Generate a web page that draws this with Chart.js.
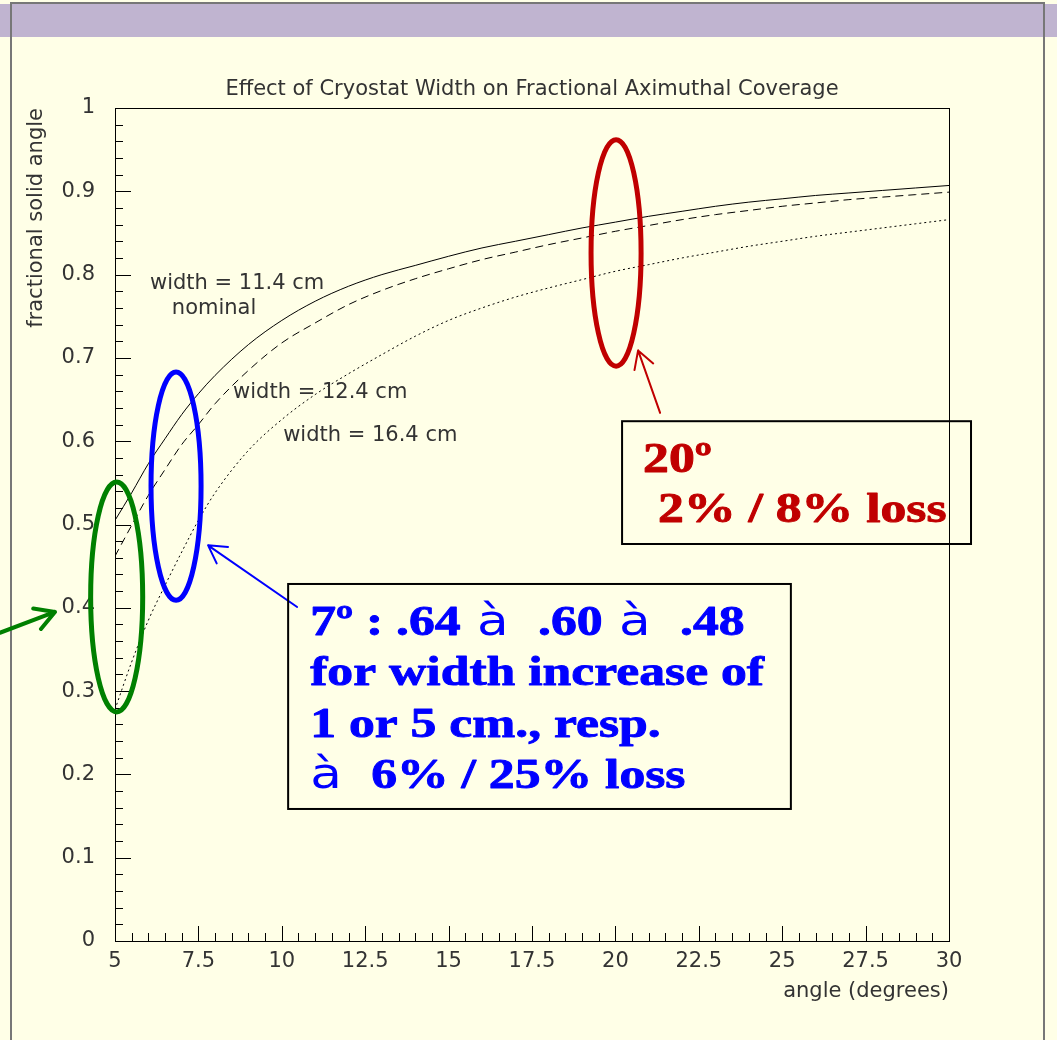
<!DOCTYPE html>
<html>
<head>
<meta charset="utf-8">
<script src="https://cdn.jsdelivr.net/npm/chart.js@4.4.1/dist/chart.umd.min.js"></script>
<style>
  html, body { margin: 0; padding: 0; background: #ffffe7; }
  canvas { display: block; }
</style>
</head>
<body>
<canvas id="chart" width="1057" height="1040"></canvas>
<script>
const angles = [5, 5.5, 6, 6.5, 7, 7.5, 8, 9, 10, 11, 12, 13, 14, 15, 16, 17, 18, 19, 20, 21, 22, 23, 24, 25, 26, 27, 28, 29, 30];
const width114 = [0.505, 0.538, 0.573, 0.603, 0.632, 0.657, 0.679, 0.716, 0.745, 0.768, 0.786, 0.800, 0.811, 0.822, 0.832, 0.840, 0.848, 0.856, 0.863, 0.870, 0.876, 0.882, 0.887, 0.891, 0.895, 0.898, 0.901, 0.904, 0.907];
const width124 = [0.462, 0.499, 0.535, 0.566, 0.596, 0.620, 0.645, 0.685, 0.718, 0.742, 0.764, 0.781, 0.795, 0.807, 0.818, 0.827, 0.836, 0.844, 0.852, 0.859, 0.866, 0.872, 0.877, 0.882, 0.886, 0.890, 0.893, 0.896, 0.899];
const width164 = [0.278, 0.335, 0.385, 0.427, 0.467, 0.505, 0.538, 0.589, 0.626, 0.656, 0.681, 0.704, 0.726, 0.745, 0.760, 0.773, 0.784, 0.794, 0.804, 0.812, 0.820, 0.827, 0.834, 0.840, 0.846, 0.851, 0.856, 0.861, 0.866];
const xTicks = [5, 7.5, 10, 12.5, 15, 17.5, 20, 22.5, 25, 27.5, 30];
const yTicks = [0, 0.1, 0.2, 0.3, 0.4, 0.5, 0.6, 0.7, 0.8, 0.9, 1];

const TITLE = "Effect of Cryostat Width on Fractional Aximuthal Coverage";
const X_TITLE = "angle (degrees)";
const Y_TITLE = "fractional solid angle";
const ROOT_FONT = "21px 'DejaVu Sans'";
const SERIF = "bold 42px 'Liberation Serif'";
const SANS = "42px 'DejaVu Sans'";
const STRETCH = 1.23;

function series(values) {
  return angles.map((a, i) => ({ x: a, y: values[i] }));
}

function drawRich(ctx, parts, x, y) {
  ctx.save();
  ctx.translate(x, y);
  ctx.scale(STRETCH, 1);
  ctx.strokeStyle = ctx.fillStyle;
  ctx.lineWidth = 0.9;
  ctx.lineJoin = "round";
  let cx = 0;
  parts.forEach(([text, font]) => {
    ctx.font = font;
    ctx.fillText(text, cx, 0);
    if (font === SERIF) ctx.strokeText(text, cx, 0);
    cx += ctx.measureText(text).width;
  });
  ctx.restore();
}

function arrow(ctx, x1, y1, x2, y2, color, lw, len) {
  const ang = Math.atan2(y1 - y2, x1 - x2);
  ctx.save();
  ctx.strokeStyle = color;
  ctx.lineWidth = lw;
  ctx.lineCap = "round";
  ctx.beginPath();
  ctx.moveTo(x1, y1);
  ctx.lineTo(x2, y2);
  [-0.52, 0.52].forEach((d) => {
    ctx.moveTo(x2, y2);
    ctx.lineTo(x2 + len * Math.cos(ang + d), y2 + len * Math.sin(ang + d));
  });
  ctx.stroke();
  ctx.restore();
}

const decor = {
  id: "decor",
  beforeDraw(chart) {
    const ctx = chart.ctx;
    ctx.save();
    ctx.fillStyle = "#ffffe7";
    ctx.fillRect(0, 0, chart.width, chart.height);
    ctx.fillStyle = "#c0b4d0";
    ctx.fillRect(0, 4, chart.width, 33);
    ctx.strokeStyle = "#777";
    ctx.lineWidth = 2;
    ctx.beginPath();
    ctx.moveTo(11, chart.height);
    ctx.lineTo(11, 3);
    ctx.lineTo(1044, 3);
    ctx.lineTo(1044, chart.height);
    ctx.stroke();
    ctx.restore();
  },
  afterDraw(chart) {
    const ctx = chart.ctx;
    const xs = chart.scales.x, ys = chart.scales.y;
    const a = chart.chartArea;
    const px = (v) => xs.getPixelForValue(v);
    const py = (v) => ys.getPixelForValue(v);
    ctx.save();

    ctx.strokeStyle = "#000";
    ctx.lineWidth = 1;
    ctx.strokeRect(a.left + 0.5, a.top + 0.5, a.right - a.left, a.bottom - a.top);
    ctx.beginPath();
    for (let i = 0; i <= 50; i++) {
      const y = Math.round(py(i * 0.02)) + 0.5;
      ctx.moveTo(a.left, y);
      ctx.lineTo(a.left + (i % 5 === 0 ? 16 : 8), y);
    }
    for (let i = 0; i <= 50; i++) {
      const x = Math.round(px(5 + i * 0.5)) + 0.5;
      ctx.moveTo(x, a.bottom);
      ctx.lineTo(x, a.bottom - (i % 5 === 0 ? 15 : 8));
    }
    ctx.stroke();

    ctx.fillStyle = "#333";
    ctx.font = ROOT_FONT;
    ctx.textBaseline = "middle";
    ctx.textAlign = "center";
    ctx.fillText(TITLE, (a.left + a.right) / 2, a.top - 18);
    ctx.textAlign = "right";
    ctx.fillText(X_TITLE, a.right, a.bottom + 51);
    ctx.save();
    ctx.translate(37, a.top);
    ctx.rotate(-Math.PI / 2);
    ctx.fillText(Y_TITLE, 0, 0);
    ctx.restore();

    ctx.textAlign = "left";
    ctx.fillText("width = 11.4 cm", px(6.05), py(0.789));
    ctx.textAlign = "center";
    ctx.fillText("nominal", px(7.97), py(0.759));
    ctx.textAlign = "left";
    ctx.fillText("width = 12.4 cm", px(8.54), py(0.658));
    ctx.fillText("width = 16.4 cm", px(10.04), py(0.607));

    const rings = [
      [5.05, 0.413, 0.78, 0.138, "#008000"],
      [6.83, 0.546, 0.75, 0.137, "#0000ff"],
      [20.02, 0.826, 0.75, 0.136, "#c00000"],
    ];
    ctx.lineWidth = 5;
    rings.forEach(([cx, cy, rx, ry, col]) => {
      ctx.strokeStyle = col;
      ctx.beginPath();
      ctx.ellipse(px(cx), py(cy), px(cx + rx) - px(cx), py(cy) - py(cy + ry), 0, 0, Math.PI * 2);
      ctx.stroke();
    });

    arrow(ctx, px(1.55), py(0.37), px(3.2), py(0.395), "#008000", 4, 22);
    arrow(ctx, px(10.46), py(0.401), px(7.79), py(0.475), "#0000ff", 2, 20);
    arrow(ctx, px(21.34), py(0.634), px(20.68), py(0.709), "#c00000", 2, 20);

    const bx = px(10.19), by = py(0.4286);
    const rx = px(20.2), ry = py(0.624);
    ctx.strokeStyle = "#000";
    ctx.lineWidth = 2;
    ctx.strokeRect(bx, by, px(25.26) - bx, py(0.1585) - by);
    ctx.strokeRect(rx, ry, px(30.66) - rx, py(0.4766) - ry);

    ctx.textAlign = "left";
    ctx.textBaseline = "alphabetic";
    ctx.fillStyle = "#0000ff";
    drawRich(ctx, [["7º : .64", SERIF], [" à ", SANS], [" .60", SERIF], [" à ", SANS], [" .48", SERIF]], bx + 22, by + 51);
    drawRich(ctx, [["for width increase of", SERIF]], bx + 22, by + 101);
    drawRich(ctx, [["1 or 5 cm., resp.", SERIF]], bx + 22, by + 153);
    drawRich(ctx, [["à ", SANS], [" 6% / 25% loss", SERIF]], bx + 22, by + 204);

    ctx.fillStyle = "#c00000";
    drawRich(ctx, [["20º", SERIF]], rx + 21, ry + 51);
    drawRich(ctx, [["2% / 8% loss", SERIF]], rx + 36, ry + 101);
    ctx.restore();
  },
};

const tickFont = { family: "DejaVu Sans", size: 21 };

const ctx = document.getElementById("chart").getContext("2d");
const chart = new Chart(ctx, {
  type: "line",
  data: {
    datasets: [
      { data: series(width114), borderDash: [] },
      { data: series(width124), borderDash: [8, 5] },
      { data: series(width164), borderDash: [2, 3] },
    ].map((d) => ({
      ...d,
      borderColor: "#000",
      borderWidth: 1,
      pointRadius: 0,
      fill: false,
      cubicInterpolationMode: "monotone",
    })),
  },
  options: {
    responsive: false,
    animation: false,
    layout: { padding: { top: 108, right: 108, left: 0, bottom: 0 } },
    plugins: { legend: { display: false }, tooltip: { enabled: false }, title: { display: false } },
    scales: {
      x: {
        type: "linear",
        min: 5,
        max: 30,
        afterFit: (s) => { s.height = 99; },
        afterBuildTicks: (s) => { s.ticks = xTicks.map((v) => ({ value: v })); },
        grid: { display: false, drawTicks: false },
        border: { display: false },
        ticks: { font: tickFont, color: "#333", padding: 8, maxRotation: 0, autoSkip: false, callback: (v) => String(v) },
      },
      y: {
        min: 0,
        max: 1,
        afterFit: (s) => { s.width = 115; },
        afterBuildTicks: (s) => { s.ticks = yTicks.map((v) => ({ value: v })); },
        grid: { display: false, drawTicks: false },
        border: { display: false },
        ticks: { font: tickFont, color: "#333", padding: 20, autoSkip: false, callback: (v) => String(v) },
      },
    },
  },
  plugins: [decor],
});
</script>
</body>
</html>
